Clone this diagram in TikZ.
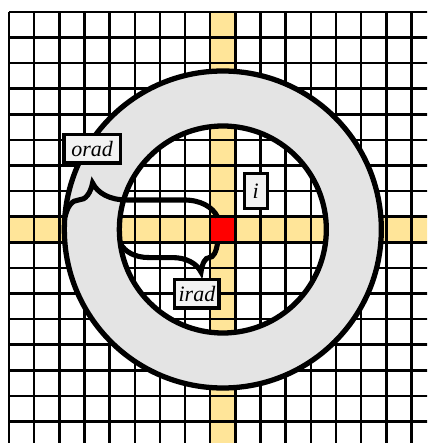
\documentclass[tikz,border=0pt]{standalone}
\usepackage{fontspec}
\setmainfont{Liberation Serif}
\usepackage{tikz}
\usetikzlibrary{decorations.pathreplacing}

\definecolor{cellyellow}{RGB}{255,229,153}
\definecolor{ringgray}{RGB}{228,228,228}
\definecolor{boxgray}{RGB}{242,242,242}

\begin{document}
\begin{tikzpicture}[x=0.503cm,y=0.512cm,
          gridline/.style={line width=1.4pt},
          ringline/.style={line width=3pt},
          bracebig/.style={decorate,decoration={brace,amplitude=0.68cm,aspect=0.18},line width=2.9pt},
          bracesmall/.style={decorate,decoration={brace,amplitude=0.58cm,aspect=0.17},line width=2.9pt},
          lbl/.style={draw,line width=2pt,fill=boxgray,inner sep=0pt,
                      font=\fontsize{12.5}{14}\selectfont\itshape,minimum height=0.57cm}]
        \useasboundingbox[fill=white] (-8.86,-8.34) rectangle (8.12,8.965);
        \clip (-8.86,-8.34) rectangle (8.12,8.965);
        % highlighted row and column, current cell
        \fill[cellyellow] (-8.5,-0.5) rectangle (8.5,0.5);
        \fill[cellyellow] (-0.5,-8.5) rectangle (0.5,8.5);
        \fill[red] (-0.5,-0.5) rectangle (0.5,0.5);
        \foreach \k in {-8.5,...,8.5} {
          \draw[gridline] (\k,-8.5) -- (\k,8.5);
          \draw[gridline] (-8.5,\k) -- (8.5,\k);
        }
        \coordinate (c) at (0,0);
        % ring between irad and orad
        \fill[ringgray,even odd rule] (c) circle[radius=3.17cm] (c) circle[radius=2.07cm];
        \draw[ringline] (c) circle[radius=3.17cm];
        \draw[ringline] (c) circle[radius=2.07cm];
        \coordinate (oL) at (-6.27,0.49);
        \coordinate (oR) at (-0.21,0.49);
        \coordinate (iL) at (-4.08,-0.53);
        \coordinate (iR) at (-0.21,-0.53);
        \draw[bracebig] (oL) -- (oR);
        \draw[bracesmall] (iR) -- (iL);
        \node[lbl,minimum width=1.13cm] (orad) at (-5.2,3.16) {orad};
        \node[lbl,minimum width=0.89cm] (irad) at (-1.03,-2.51) {irad};
        \node[lbl,minimum width=0.46cm,minimum height=0.7cm] (i) at (1.31,1.51) {i};
      \end{tikzpicture}
\end{document}
